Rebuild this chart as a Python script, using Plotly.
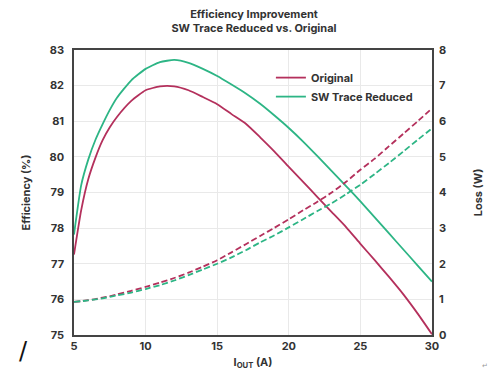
import plotly.graph_objects as go

# Output current (A)
iout = [5, 5.5, 6, 6.5, 7, 7.5, 8, 9, 10, 11, 12, 13, 14, 15, 16, 17, 18, 19, 20,
        21, 22, 23, 24, 25, 26, 27, 28, 29, 30]

# Efficiency (%)
eff_original = [77.26, 78.5, 79.38, 79.98, 80.47, 80.83, 81.12, 81.57, 81.87, 81.98, 81.98,
                81.87, 81.68, 81.48, 81.2, 80.93, 80.55, 80.15, 79.72, 79.3, 78.87, 78.45,
                78.03, 77.56, 77.1, 76.63, 76.14, 75.6, 75.02]
eff_reduced = [77.82, 79.2, 79.93, 80.48, 80.92, 81.32, 81.66, 82.15, 82.47, 82.66, 82.72,
               82.64, 82.47, 82.27, 82.03, 81.78, 81.49, 81.16, 80.81, 80.43, 80.02, 79.6,
               79.18, 78.75, 78.3, 77.85, 77.4, 76.95, 76.5]

# Loss (W)
loss_original = [0.93, 0.95, 0.98, 1.01, 1.05, 1.09, 1.14, 1.24, 1.35, 1.47, 1.60, 1.75,
                 1.92, 2.10, 2.32, 2.55, 2.78, 3.01, 3.25, 3.50, 3.74, 4.00, 4.30, 4.64,
                 4.95, 5.30, 5.65, 6.00, 6.36]
loss_reduced = [0.93, 0.95, 0.97, 1.00, 1.03, 1.07, 1.11, 1.19, 1.29, 1.40, 1.53, 1.68,
                1.84, 2.00, 2.18, 2.38, 2.60, 2.80, 3.02, 3.25, 3.48, 3.70, 3.95, 4.22,
                4.52, 4.83, 5.15, 5.48, 5.80]

series_names = ["Original", "SW Trace Reduced"]
RED = "#B4305C"
GREEN = "#2DB585"
TXT = "#333333"
FONT = "Inter"

fig = go.Figure()
fig.add_trace(go.Scatter(x=iout, y=eff_original, name=series_names[0], mode="lines",
                         line=dict(color=RED, width=1.8, shape="spline", smoothing=0.5)))
fig.add_trace(go.Scatter(x=iout, y=eff_reduced, name=series_names[1], mode="lines",
                         line=dict(color=GREEN, width=1.8, shape="spline", smoothing=0.5)))
fig.add_trace(go.Scatter(x=iout, y=loss_original, name=series_names[0] + " loss", mode="lines",
                         yaxis="y2", showlegend=False,
                         line=dict(color=RED, width=1.8, dash="6px,3px", shape="spline", smoothing=0.5)))
fig.add_trace(go.Scatter(x=iout, y=loss_reduced, name=series_names[1] + " loss", mode="lines",
                         yaxis="y2", showlegend=False,
                         line=dict(color=GREEN, width=1.8, dash="6px,3px", shape="spline", smoothing=0.5)))

tickfont = dict(family=FONT, size=11, color=TXT, weight="bold")

fig.update_layout(
    width=492, height=374,
    margin=dict(l=66, r=68, t=42, b=47),
    paper_bgcolor="white", plot_bgcolor="white",
    font=dict(family=FONT, color=TXT),
    title=dict(text="<b>Efficiency Improvement<br>SW Trace Reduced vs. Original</b>",
               x=0.5, xanchor="center", y=0.9745, yanchor="top",
               font=dict(family=FONT, size=11, color=TXT)),
    xaxis=dict(range=[5, 30], tickvals=[5, 10, 15, 20, 25, 30], ticks="",
               showgrid=True, gridcolor="#e9e9e9", gridwidth=1,
               showline=True, linecolor="#444", linewidth=1.5, mirror=True,
               zeroline=False, tickfont=tickfont,
               title=dict(text="<b>I<sub>OUT</sub> (A)</b>", standoff=6,
                          font=dict(family=FONT, size=11, color=TXT))),
    yaxis=dict(range=[75, 83], dtick=1, ticks="", showgrid=True, gridcolor="#e9e9e9",
               gridwidth=1, showline=True, linecolor="#444", linewidth=1.5, mirror=True,
               zeroline=False, tickfont=tickfont, ticklabelstandoff=6,
               title=dict(text="<b>Efficiency (%)</b>", standoff=17,
                          font=dict(family=FONT, size=11, color=TXT))),
    yaxis2=dict(range=[0, 8], dtick=1, overlaying="y", side="right", ticks="",
                showgrid=False, zeroline=False, tickfont=tickfont, ticklabelstandoff=6,
                title=dict(text="<b>Loss (W)</b>", standoff=28,
                           font=dict(family=FONT, size=11, color=TXT))),
    legend=dict(x=0.55, y=0.954, xanchor="left", yanchor="top", bgcolor="rgba(0,0,0,0)",
                font=dict(family=FONT, size=11, color=TXT, weight="bold"),
                tracegroupgap=0, itemwidth=30),
    showlegend=True,
)

fig.add_annotation(text="/", xref="paper", yref="paper", x=-0.16, y=-0.112,
                   showarrow=False, font=dict(family="DejaVu Sans", size=24, color="#111"))
fig.add_annotation(text="↵", xref="paper", yref="paper", x=1.162, y=-0.13,
                   showarrow=False, font=dict(family="DejaVu Sans", size=7, color="#999"))

fig.write_html("out.html")
